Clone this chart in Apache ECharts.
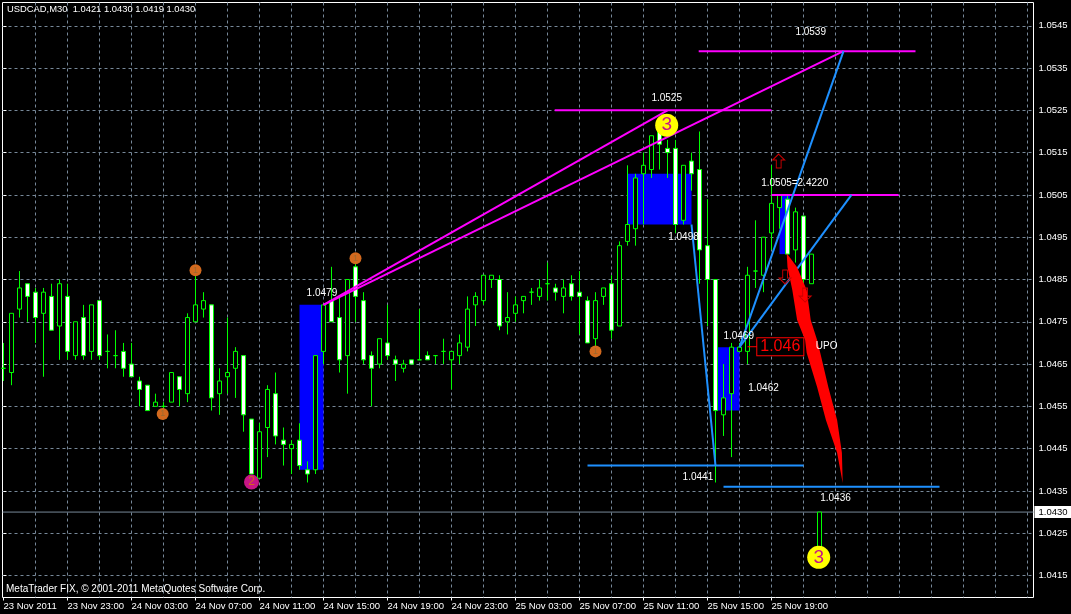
<!DOCTYPE html>
<html>
<head>
<meta charset="utf-8">
<style>
  html, body { margin: 0; padding: 0; background: #000; }
  #chart { width: 1071px; height: 614px; }
</style>
<script src="https://cdn.jsdelivr.net/npm/echarts@6/dist/echarts.min.js"></script>
</head>
<body>
<div id="chart"></div>
<script>
// USDCAD M30 candles, one entry per bar
var opens = [1.0464,1.0463,1.0478,1.0484,1.0482,1.0477,1.0481,1.0474,1.0481,1.0467,1.0476,1.0468,1.0480,1.0468,1.0467,1.0468,1.0465,1.0461,1.0460,1.0455,1.0455,1.0456,1.0462,1.0458,1.0475,1.0478,1.0479,1.0458,1.0462,1.0464,1.0467,1.0452,1.0438,1.0450,1.0458,1.0447,1.0445,1.0447,1.0440,1.0440,1.0468,1.0480,1.0476,1.0467,1.0488,1.0480,1.0467,1.0465,1.0470,1.0466,1.0464,1.0466,1.0466,1.0467,1.0467,1.0468,1.0466,1.0467,1.0469,1.0479,1.0480,1.0485,1.0485,1.0475,1.0477,1.0480,1.0482,1.0481,1.0484,1.0483,1.0481,1.0484,1.0482,1.0480,1.0471,1.0481,1.0484,1.0474,1.0494,1.0497,1.0510,1.0511,1.0520,1.0516,1.0516,1.0499,1.0513,1.0511,1.0493,1.0485,1.0453,1.0458,1.0468,1.0468,1.0487,1.0486,1.0496,1.0502,1.0504,1.0492,1.0500,1.0484,1.0421];
var closes = [1.0464,1.0477,1.0483,1.0481,1.0476,1.0482,1.0473,1.0484,1.0468,1.0475,1.0467,1.0479,1.0467,1.0468,1.0467,1.0464,1.0462,1.0459,1.0454,1.0456,1.0455,1.0463,1.0459,1.0476,1.0479,1.0480,1.0457,1.0461,1.0463,1.0468,1.0453,1.0439,1.0449,1.0459,1.0448,1.0446,1.0446,1.0441,1.0439,1.0467,1.0479,1.0475,1.0466,1.0485,1.0481,1.0466,1.0464,1.0471,1.0467,1.0465,1.0465,1.0465,1.0466,1.0466,1.0467,1.0468,1.0468,1.0470,1.0478,1.0481,1.0486,1.0486,1.0474,1.0476,1.0479,1.0481,1.0482,1.0483,1.0484,1.0482,1.0483,1.0481,1.0481,1.0470,1.0480,1.0483,1.0473,1.0493,1.0498,1.0509,1.0512,1.0519,1.0517,1.0515,1.0498,1.0512,1.0510,1.0492,1.0485,1.0454,1.0457,1.0469,1.0469,1.0486,1.0487,1.0495,1.0503,1.0505,1.0491,1.0501,1.0485,1.0491,1.0430];
var lows = [1.0461,1.0460,1.0476,1.0475,1.0470,1.0462,1.0473,1.0466,1.0466,1.0466,1.0466,1.0466,1.0466,1.0464,1.0464,1.0462,1.0462,1.0455,1.0454,1.0455,1.0453,1.0456,1.0455,1.0456,1.0475,1.0476,1.0454,1.0453,1.0458,1.0457,1.0449,1.0439,1.0438,1.0443,1.0446,1.0441,1.0439,1.0440,1.0437,1.0439,1.0465,1.0475,1.0463,1.0458,1.0475,1.0465,1.0455,1.0464,1.0466,1.0461,1.0463,1.0465,1.0466,1.0466,1.0465,1.0465,1.0459,1.0465,1.0468,1.0474,1.0479,1.0483,1.0473,1.0472,1.0475,1.0477,1.0479,1.0480,1.0480,1.0480,1.0477,1.0480,1.0472,1.0470,1.0468,1.0479,1.0471,1.0474,1.0493,1.0493,1.0498,1.0509,1.0511,1.0509,1.0496,1.0498,1.0506,1.0484,1.0474,1.0437,1.0448,1.0443,1.0468,1.0465,1.0483,1.0482,1.0492,1.0497,1.0490,1.0489,1.0483,1.0484,1.0419];
var highs = [1.0470,1.0477,1.0487,1.0484,1.0483,1.0483,1.0484,1.0485,1.0484,1.0475,1.0479,1.0479,1.0480,1.0472,1.0473,1.0470,1.0470,1.0462,1.0460,1.0458,1.0456,1.0463,1.0462,1.0477,1.0487,1.0482,1.0479,1.0464,1.0476,1.0469,1.0467,1.0452,1.0451,1.0460,1.0463,1.0450,1.0447,1.0451,1.0442,1.0467,1.0479,1.0488,1.0481,1.0485,1.0489,1.0482,1.0468,1.0471,1.0479,1.0467,1.0466,1.0466,1.0478,1.0468,1.0467,1.0471,1.0468,1.0472,1.0481,1.0482,1.0486,1.0486,1.0486,1.0482,1.0481,1.0481,1.0483,1.0485,1.0489,1.0484,1.0485,1.0486,1.0487,1.0481,1.0482,1.0483,1.0486,1.0494,1.0512,1.0510,1.0515,1.0519,1.0520,1.0518,1.0518,1.0512,1.0515,1.0520,1.0504,1.0485,1.0465,1.0470,1.0470,1.0488,1.0499,1.0495,1.0512,1.0505,1.0505,1.0502,1.0500,1.0491,1.0430];

var priceTicks = [1.0415,1.0425,1.0435,1.0445,1.0455,1.0465,1.0475,1.0485,1.0495,1.0505,1.0515,1.0525,1.0535,1.0545];
var timeLabels = ['23 Nov 2011','23 Nov 23:00','24 Nov 03:00','24 Nov 07:00','24 Nov 11:00','24 Nov 15:00','24 Nov 19:00','24 Nov 23:00','25 Nov 03:00','25 Nov 07:00','25 Nov 11:00','25 Nov 15:00','25 Nov 19:00'];
var currentPrice = 1.0430;

// drawn objects, [bar, price] pairs
var magentaLines = [
  [[68.9,1.0525],[96,1.0525]],
  [[86.9,1.0539],[114,1.0539]],
  [[96,1.0505],[111.9,1.0505]],
  [[40,1.0479],[83,1.0525]],
  [[40,1.0479],[105,1.0539]]
];
var blueLines = [
  [[73,1.0441],[100,1.0441]],
  [[90,1.0436],[117,1.0436]],
  [[86,1.0498],[89,1.0441]],
  [[92,1.0469],[105,1.0539]],
  [[92,1.0469],[106,1.0505]]
];
var blueBoxes = [
  [37,1.0479,40,1.0440],
  [78,1.0510,86,1.0498],
  [97,1.0505,98.3,1.0491],
  [89,1.0469,92,1.0454]
];
var redWedge = [[97.9,1.04912],[99.2,1.04879],[100.4,1.04825],[100.9,1.04754],[101.7,1.04707],[102.1,1.04676],[103.1,1.04596],[104.2,1.04518],[104.8,1.0444],[104.9,1.04369],[104.2,1.0444],[102.8,1.04518],[101.7,1.04596],[100.4,1.04676],[100.2,1.04707],[99.2,1.04754],[98.6,1.04825],[98,1.04879]];
var priceTexts = [
  [100.9,1.05435,'1.0539'],
  [82.9,1.05279,'1.0525'],
  [39.8,1.04818,'1.0479'],
  [85,1.04951,'1.0498'],
  [98.9,1.05078,'1.0505=2.4220'],
  [91.9,1.04716,'1.0469'],
  [95,1.04593,'1.0462'],
  [102.9,1.04693,'UPO'],
  [86.8,1.04383,'1.0441'],
  [104,1.04333,'1.0436']
];
// wave counters: bar, price, number, size, fill, text colour, text size
var waveMarks = [
  [19.9,1.04532,'1',12,'#d2691e','#9a6a30',9],
  [24,1.04872,'1',12,'#d2691e','#9a6a30',9],
  [44,1.049,'1',12,'#d2691e','#9a6a30',9],
  [74,1.0468,'1',12,'#d2691e','#9a6a30',9],
  [31,1.04371,'2',15,'#c71585','#d2691e',12],
  [82.9,1.05215,'3',23,'#ffff00','#c71585',19],
  [101.9,1.04193,'3',23,'#ffff00','#c71585',19]
];
var upArrows = [[96.9,1.0513]];
var downArrows = [[97.7,1.04856],[100.2,1.04813]];
var signalLine = [[93,1.04691],[96.2,1.04691]];
var signalBox = [[97.1,1.04691,'1.046']];

var candles = opens.map(function (o, i) {
  return [i, o, closes[i], lows[i], highs[i]];
});

var gridTicks = [];
for (var t = 4; t <= 128; t += 4) gridTicks.push(t);
var labelTicks = timeLabels.map(function (s, i) { return i * 8; });

var font = 'Liberation Sans';
var xMin = -0.125, xMax = 128.75;

function lineSeries(points, color) {
  return {
    type: 'line', data: points, symbol: 'none', silent: true, z: 5, animation: false,
    lineStyle: { color: color, width: 2 }
  };
}

var series = [
  {
    // blue rectangles behind the bars
    type: 'custom', z: 1, silent: true, animation: false,
    data: blueBoxes,
    encode: { x: [0, 2], y: [1, 3] },
    renderItem: function (params, api) {
      var a = api.coord([api.value(0), api.value(1)]);
      var b = api.coord([api.value(2), api.value(3)]);
      return { type: 'rect', shape: { x: a[0], y: a[1], width: b[0] - a[0], height: b[1] - a[1] }, style: { fill: '#0000ff' } };
    }
  },
  {
    type: 'candlestick', z: 3, barWidth: 5, silent: true, animation: false,
    data: candles,
    encode: { x: 0, y: [1, 2, 3, 4] },
    itemStyle: { color: '#000', color0: '#fff', borderColor: '#00ff00', borderColor0: '#00ff00', borderColorDoji: '#00ff00', borderWidth: 1 }
  },
  {
    type: 'custom', z: 6, silent: true, animation: false,
    data: [0],
    renderItem: function (params, api) {
      return {
        type: 'polygon',
        shape: { points: redWedge.map(function (p) { return api.coord(p); }) },
        style: { fill: '#ff0000' }
      };
    }
  },
  {
    type: 'scatter', z: 7, silent: true, animation: false, symbol: 'path://M5 0 L10 6 L7 6 L7 14 L3 14 L3 6 L0 6 Z',
    symbolSize: [12, 14], data: upArrows,
    itemStyle: { color: 'none', borderColor: '#cc0000', borderWidth: 1, opacity: 1 }
  },
  {
    type: 'scatter', z: 7, silent: true, animation: false, symbol: 'path://M3 0 L7 0 L7 8 L10 8 L5 14 L0 8 L3 8 Z',
    symbolSize: [12, 14], data: downArrows,
    itemStyle: { color: 'none', borderColor: '#cc0000', borderWidth: 1, opacity: 1 }
  },
  {
    type: 'scatter', z: 8, silent: true, animation: false,
    data: waveMarks.map(function (m) {
      return {
        value: [m[0], m[1]], symbolSize: m[3],
        itemStyle: { color: m[4], opacity: 1 },
        label: { show: true, position: 'inside', formatter: m[2], color: m[5], fontFamily: font, fontSize: m[6] }
      };
    })
  },
  {
    type: 'scatter', z: 9, silent: true, animation: false, symbolSize: 1,
    itemStyle: { color: 'transparent', opacity: 1 },
    data: priceTexts.map(function (p) {
      return { value: [p[0], p[1]], label: { show: true, position: 'inside', formatter: p[2], color: '#fff', fontFamily: font, fontSize: 10 } };
    })
  },
  {
    type: 'scatter', z: 9, silent: true, animation: false, symbolSize: 1,
    itemStyle: { color: 'transparent', opacity: 1 },
    data: signalBox.map(function (p) {
      return {
        value: [p[0], p[1]],
        label: {
          show: true, position: 'inside', formatter: p[2], color: '#ff0000', fontFamily: font, fontSize: 16,
          backgroundColor: '#000', borderColor: '#ff0000', borderWidth: 1, padding: [1, 3, 0, 3]
        }
      };
    })
  }
];

magentaLines.forEach(function (l) { series.push(lineSeries(l, '#ff00ff')); });
blueLines.forEach(function (l) { series.push(lineSeries(l, '#1e90ff')); });
var sig = lineSeries(signalLine, '#ff0000');
sig.lineStyle.width = 1;
series.push(sig);
var last = lineSeries([[xMin, currentPrice], [xMax, currentPrice]], '#778899');
last.lineStyle.width = 1;
last.z = 2;
series.push(last);

var option = {
  backgroundColor: '#000',
  animation: false,
  title: [
    { text: 'USDCAD,M30  1.0421 1.0430 1.0419 1.0430', left: 7, top: 5, padding: 0, textStyle: { color: '#fff', fontFamily: font, fontSize: 9.4, fontWeight: 'normal' } },
    { text: 'MetaTrader FIX, © 2001-2011 MetaQuotes Software Corp.', left: 6, top: 584, padding: 0, textStyle: { color: '#fff', fontFamily: font, fontSize: 10, fontWeight: 'normal' } }
  ],
  grid: { left: 2.5, right: 37.5, top: 2.5, bottom: 16.5, show: true, borderColor: '#fff', borderWidth: 1, backgroundColor: '#000', outerBoundsMode: 'none' },
  xAxis: [
    {
      // vertical grid only
      type: 'value', min: xMin, max: xMax, position: 'bottom',
      axisLine: { show: false },
      axisTick: { show: false, customValues: gridTicks },
      axisLabel: { show: false },
      splitLine: { show: true, lineStyle: { color: '#778899', type: [3, 3], width: 1 } }
    },
    {
      type: 'value', min: xMin, max: xMax, position: 'bottom',
      axisLine: { show: false },
      axisTick: { show: true, length: 3, customValues: labelTicks, lineStyle: { color: '#fff' } },
      axisLabel: {
        show: true, customValues: labelTicks, color: '#fff', fontFamily: font, fontSize: 9.5, align: 'left', margin: 4,
        formatter: function (v) { return timeLabels[Math.round(v / 8)]; }
      },
      splitLine: { show: false }
    }
  ],
  yAxis: {
    type: 'value', min: 1.04098, max: 1.05505, position: 'right',
    axisLine: { show: false },
    axisTick: { show: true, length: 3, customValues: priceTicks, lineStyle: { color: '#fff' } },
    axisLabel: {
      show: true, customValues: priceTicks.concat([currentPrice]), color: '#fff', fontFamily: font, fontSize: 9.5, margin: 1,
      formatter: function (v) {
        var s = v.toFixed(4);
        return v === currentPrice ? '{box|' + s + '}' : '{tick|' + s + '}';
      },
      rich: {
        tick: { color: '#fff', fontFamily: font, fontSize: 9.5, padding: [0, 0, 0, 4] },
        box: { color: '#000', fontFamily: font, fontSize: 9.5, backgroundColor: '#fff', padding: [1, 5, 1, 4] }
      }
    },
    splitLine: { show: true, lineStyle: { color: '#778899', type: [3, 3], width: 1 } }
  },
  series: series
};

var chart = echarts.init(document.getElementById('chart'));
chart.setOption(option);
</script>
</body>
</html>
